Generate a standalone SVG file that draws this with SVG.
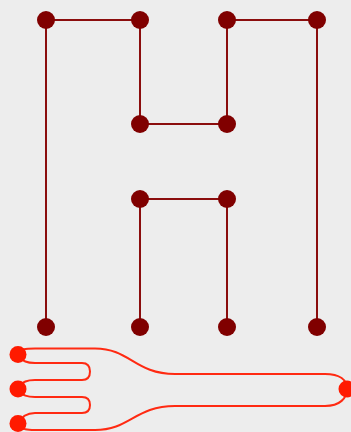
<svg xmlns="http://www.w3.org/2000/svg" width="351" height="432" viewBox="0 0 351 432">
  <style>
    .edge { stroke: #8b0d0d; stroke-width: 2; fill: none; }
    .route { stroke: #ff2a12; stroke-width: 2; fill: none; }
    .node { fill: #800000; }
    .port { fill: #ff1a00; }
  </style>
  <rect width="351" height="432" fill="#ededed"/>
  <g id="edges">
    <line class="edge" x1="46" y1="20" x2="140" y2="20"/>
    <line class="edge" x1="46" y1="20" x2="46" y2="327"/>
    <line class="edge" x1="140" y1="20" x2="140" y2="124"/>
    <line class="edge" x1="140" y1="124" x2="227" y2="124"/>
    <line class="edge" x1="227" y1="20" x2="227" y2="124"/>
    <line class="edge" x1="227" y1="20" x2="317" y2="20"/>
    <line class="edge" x1="317" y1="20" x2="317" y2="327"/>
    <line class="edge" x1="140" y1="199" x2="227" y2="199"/>
    <line class="edge" x1="140" y1="199" x2="140" y2="327"/>
    <line class="edge" x1="227" y1="199" x2="227" y2="327"/>
    <path class="route" d="M18,354 C20,349 25,348.5 35,348.5 L95,348.5 C130,348.5 135,374 175,374 L325,374 C340,374 347,380 347,389"/>
    <path class="route" d="M18,354 C22,362 28,363 35,363 L82,363 Q90,363 90,371.5 Q90,380 82,380 L35,380 C28,380 22,381 18,389"/>
    <path class="route" d="M18,389 C22,396 28,397 35,397 L82,397 Q90,397 90,405 Q90,413 82,413 L35,413 C28,413 22,415 18,424"/>
    <path class="route" d="M18,424 C22,430 28,430 35,430 L95,430 C130,430 135,406 175,406 L325,406 C340,406 347,398 347,389"/>
  </g>
  <g id="n1"><circle class="node" cx="46" cy="20" r="9"/></g>
  <g id="n2"><circle class="node" cx="140" cy="20" r="9"/></g>
  <g id="n3"><circle class="node" cx="227" cy="20" r="9"/></g>
  <g id="n4"><circle class="node" cx="317" cy="20" r="9"/></g>
  <g id="n5"><circle class="node" cx="140" cy="124" r="9"/></g>
  <g id="n6"><circle class="node" cx="227" cy="124" r="9"/></g>
  <g id="n7"><circle class="node" cx="140" cy="199" r="9"/></g>
  <g id="n8"><circle class="node" cx="227" cy="199" r="9"/></g>
  <g id="n9"><circle class="node" cx="46" cy="327" r="9"/></g>
  <g id="n10"><circle class="node" cx="140" cy="327" r="9"/></g>
  <g id="n11"><circle class="node" cx="227" cy="327" r="9"/></g>
  <g id="n12"><circle class="node" cx="317" cy="327" r="9"/></g>
  <g id="p1"><circle class="port" cx="18" cy="354.5" r="8.5"/></g>
  <g id="p2"><circle class="port" cx="18" cy="389" r="8.5"/></g>
  <g id="p3"><circle class="port" cx="18" cy="423.5" r="8.5"/></g>
  <g id="p4"><circle class="port" cx="347" cy="389" r="8.5"/></g>
</svg>
